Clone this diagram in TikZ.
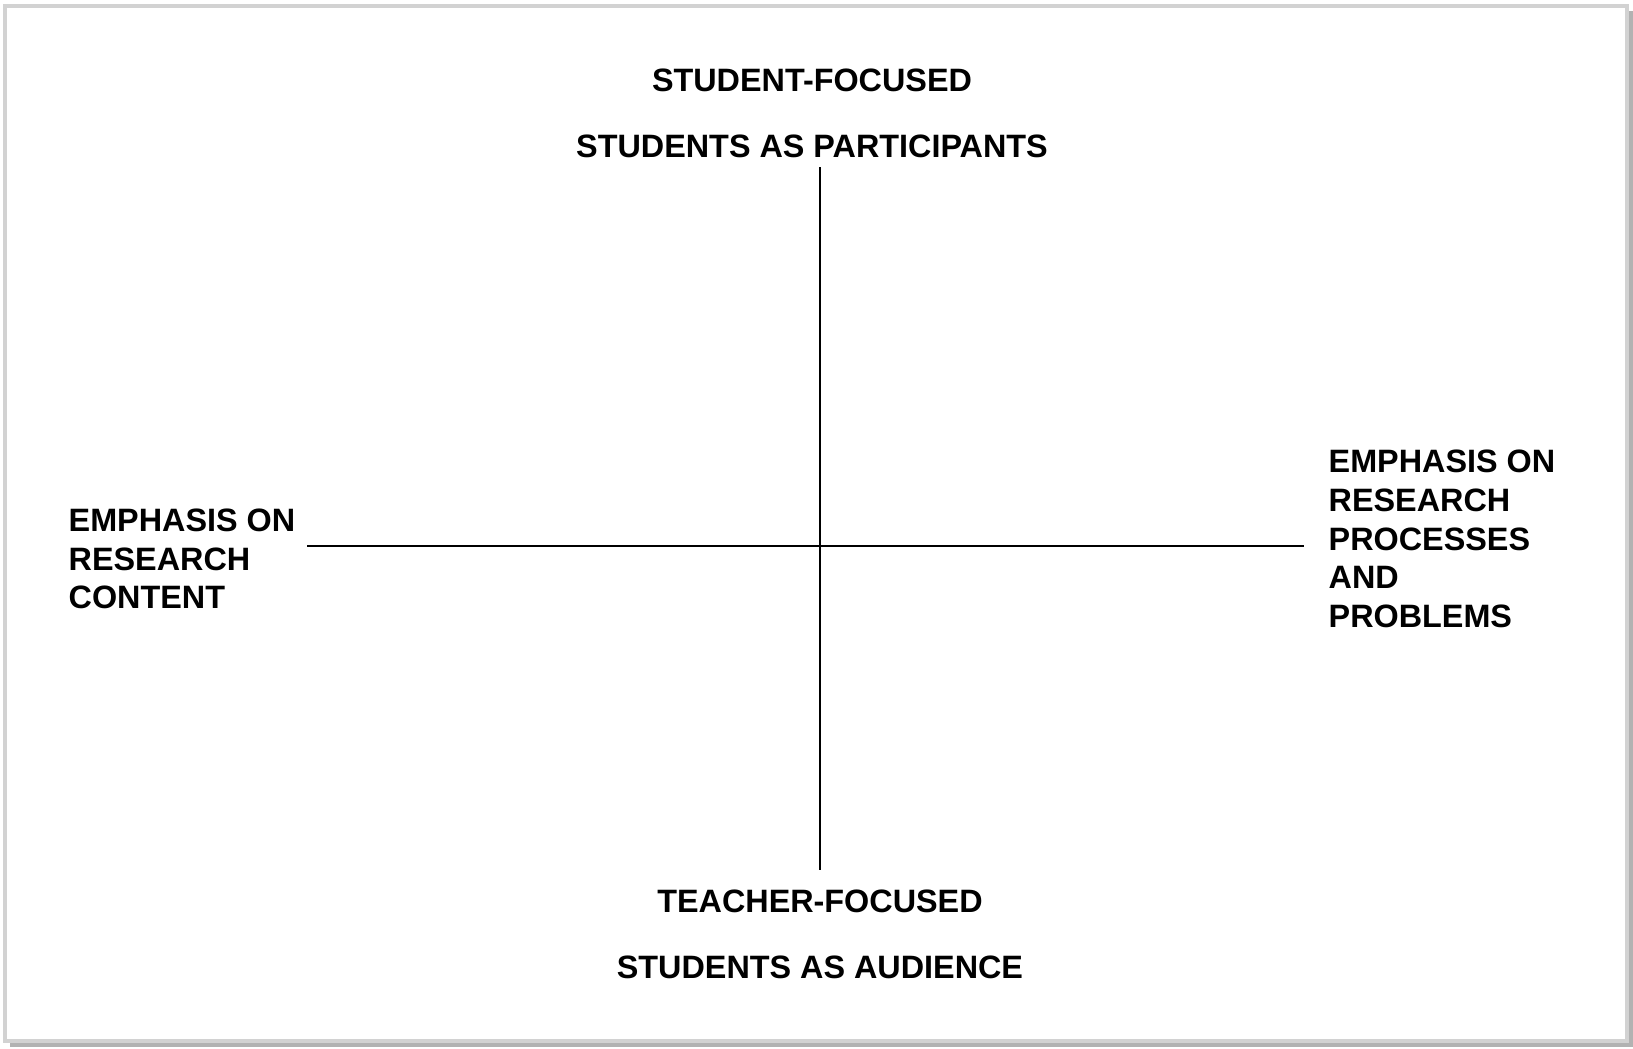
\documentclass[tikz,border=0pt]{standalone}
\usepackage{fontspec}
\setmainfont{Liberation Sans}
\usepackage{tikz}
\usetikzlibrary{calc}

\tikzset{
  label/.style={font=\fontsize{9.2}{11}\selectfont\bfseries, inner sep=0pt},
  axis/.style={line width=0.6pt, black}
}

\begin{document}
\begin{tikzpicture}[x=0.01cm,y=-0.01cm]
  \useasboundingbox (0,0) rectangle (1633,1048);

  % frame with shadow
  \fill[gray!60] (10,11) rectangle (1633,1047);
  \draw[gray!35, line width=1pt, fill=white] (5,6) rectangle (1627,1041);

  \coordinate (top) at (820,167);
  \coordinate (bottom) at (820,870);
  \coordinate (left) at (307,546);
  \coordinate (right) at (1304,546);

  \draw[axis] (top) -- (bottom);
  \draw[axis] (left) -- (right);

  \node[label] (sf) at (812,80) {STUDENT-FOCUSED};
  \node[label] (sp) at (812,146) {STUDENTS AS PARTICIPANTS};

  \node[label] (tf) at (820,901) {TEACHER-FOCUSED};
  \node[label] (sa) at (820,967) {STUDENTS AS AUDIENCE};

  \node[label, anchor=west, align=left] (content) at (68,559)
  {EMPHASIS ON\\RESEARCH\\CONTENT};

  \node[label, anchor=west, align=left] (process) at (1328,539)
  {EMPHASIS ON\\RESEARCH\\PROCESSES\\AND\\PROBLEMS};

\end{tikzpicture}
\end{document}
